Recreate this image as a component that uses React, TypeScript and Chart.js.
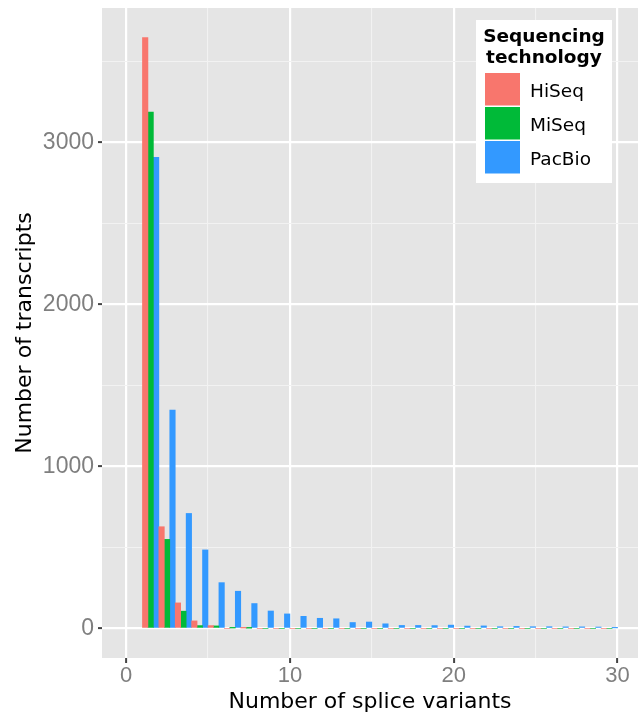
import React, { useEffect, useRef } from 'react';
import { Chart, registerables } from 'chart.js';

Chart.register(...registerables);

// Histogram bins (left edge of each bin of width 1)
const binStarts = [1, 2, 3, 4, 5, 6, 7, 8, 9, 10, 11, 12, 13, 14, 15, 16, 17, 18, 19, 20, 21, 22, 23, 24, 25, 26, 27, 28, 29];
const binWidth = 1;

const hiseqCounts = [3647, 628, 158, 47, 18, 0, 3, 0, 0, 0, 0, 0, 0, 0, 0, 0, 0, 0, 0, 0, 0, 0, 0, 0, 0, 0, 0, 0, 0];
const miseqCounts = [3187, 550, 107, 18, 16, 3, 2, 0, 0, 0, 0, 0, 0, 0, 0, 0, 0, 0, 0, 0, 0, 0, 0, 0, 0, 0, 0, 0, 0];
const pacbioCounts = [2907, 1348, 710, 485, 283, 230, 154, 108, 90, 75, 63, 60, 37, 40, 29, 19, 19, 18, 21, 15, 16, 11, 13, 11, 11, 10, 10, 9, 4];

const seriesNames = ['HiSeq', 'MiSeq', 'PacBio'];
const seriesColors = ['#F8766D', '#00BA38', '#3399FF'];

const xTickValues = [0, 5, 10, 15, 20, 25, 30];
const yTickValues = [0, 500, 1000, 1500, 2000, 2500, 3000, 3500];

const xTitle = 'Number of splice variants';
const yTitle = 'Number of transcripts';
const legendTitle = ['Sequencing', 'technology'];

const PANEL_BG = '#E5E5E5';
const MINOR_GRID = '#F2F2F2';
const TICK_COLOR = '#7F7F7F';
const TICKMARK_COLOR = '#444444';

const panelBackground = {
  id: 'panelBackground',
  beforeDraw(chart: any) {
    const { ctx, chartArea } = chart;
    ctx.save();
    ctx.fillStyle = PANEL_BG;
    ctx.fillRect(chartArea.left, chartArea.top, chartArea.right - chartArea.left, chartArea.bottom - chartArea.top);
    ctx.restore();
  },
};

const insideLegend = {
  id: 'insideLegend',
  afterDraw(chart: any) {
    const { ctx } = chart;
    const boxX = 476, boxY = 20, boxW = 136, boxH = 163;
    ctx.save();
    ctx.fillStyle = '#FFFFFF';
    ctx.fillRect(boxX, boxY, boxW, boxH);
    ctx.fillStyle = '#000000';
    ctx.font = 'bold 18.5px "DejaVu Sans"';
    ctx.textAlign = 'center';
    ctx.textBaseline = 'alphabetic';
    legendTitle.forEach((line, i) => {
      ctx.fillText(line, boxX + boxW / 2, 41.7 + i * 21);
    });
    ctx.font = '18.5px "DejaVu Sans"';
    ctx.textAlign = 'left';
    chart.data.datasets.forEach((ds: any, i: number) => {
      const top = 73 + i * 34;
      ctx.fillStyle = ds.backgroundColor;
      ctx.fillRect(485, top, 35, 32.5);
      ctx.fillStyle = '#000000';
      ctx.fillText(ds.label, 530, top + 24);
    });
    ctx.restore();
  },
};

export default function App() {
  const ref = useRef<HTMLCanvasElement>(null);

  useEffect(() => {
    document.body.style.margin = '0';
    const canvas = ref.current;
    if (!canvas) return;
    const seriesData = [hiseqCounts, miseqCounts, pacbioCounts];
    const isMajorX = (v: number) => v % 10 === 0;
    const isMajorY = (v: number) => v % 1000 === 0;

    const chart = new Chart(canvas, {
      type: 'bar',
      data: {
        datasets: seriesData.map((arr, i) => ({
          label: seriesNames[i],
          data: binStarts.map((b, j) => ({ x: b + binWidth / 2, y: arr[j] })),
          backgroundColor: seriesColors[i],
          borderWidth: 0,
          barPercentage: 1,
          categoryPercentage: 1,
        })),
      },
      options: {
        responsive: false,
        animation: false,
        layout: { padding: { top: 8, right: 0, left: 0, bottom: 0 } },
        plugins: {
          legend: { display: false },
          tooltip: { enabled: false },
        },
        scales: {
          x: {
            type: 'linear',
            min: -1.47,
            max: 31.25,
            offset: false,
            afterBuildTicks: (scale: any) => {
              scale.ticks = xTickValues.map((v) => ({ value: v }));
            },
            afterFit: (scale: any) => {
              scale.height = 55;
              scale.paddingLeft = 0;
              scale.paddingRight = 0;
            },
            border: { display: false },
            grid: {
              offset: false,
              color: (c: any) => (c.tick && isMajorX(c.tick.value) ? '#FFFFFF' : MINOR_GRID),
              lineWidth: (c: any) => (c.tick && isMajorX(c.tick.value) ? 2.2 : 1.1),
              tickColor: (c: any) => (c.tick && isMajorX(c.tick.value) ? TICKMARK_COLOR : 'rgba(0,0,0,0)'),
              tickWidth: 2,
              tickLength: 5,
              drawTicks: true,
            },
            ticks: {
              autoSkip: false,
              maxRotation: 0,
              padding: 0,
              color: TICK_COLOR,
              font: { family: '"Liberation Sans"', size: 22, lineHeight: 1.2 },
              callback: (v: any) => (isMajorX(Number(v)) ? String(v) : ''),
            },
            title: {
              display: true,
              text: xTitle,
              color: '#000000',
              font: { family: '"DejaVu Sans"', size: 22, lineHeight: 1 },
              padding: { top: 0, bottom: 0 },
            },
          },
          y: {
            type: 'linear',
            min: -182,
            max: 3829,
            afterBuildTicks: (scale: any) => {
              scale.ticks = yTickValues.map((v) => ({ value: v }));
            },
            afterFit: (scale: any) => {
              scale.width = 102;
              scale.paddingTop = 0;
              scale.paddingBottom = 0;
            },
            border: { display: false },
            grid: {
              offset: false,
              color: (c: any) => (c.tick && isMajorY(c.tick.value) ? '#FFFFFF' : MINOR_GRID),
              lineWidth: (c: any) => (c.tick && isMajorY(c.tick.value) ? 2.2 : 1.1),
              tickColor: (c: any) => (c.tick && isMajorY(c.tick.value) ? TICKMARK_COLOR : 'rgba(0,0,0,0)'),
              tickWidth: 2,
              tickLength: 4,
              drawTicks: true,
            },
            ticks: {
              autoSkip: false,
              padding: 4,
              color: TICK_COLOR,
              font: { family: '"Liberation Sans"', size: 23 },
              callback: (v: any) => (isMajorY(Number(v)) ? String(v) : ''),
            },
            title: {
              display: true,
              text: yTitle,
              color: '#000000',
              font: { family: '"DejaVu Sans"', size: 22, lineHeight: 1 },
              padding: { top: 14, bottom: 0 },
            },
          },
        },
      },
      plugins: [panelBackground, insideLegend],
    } as any);

    return () => chart.destroy();
  }, []);

  return (
    <div style={{ width: 638, height: 713, position: 'relative' }}>
      <canvas ref={ref} width={638} height={713} style={{ display: 'block' }} />
    </div>
  );
}
